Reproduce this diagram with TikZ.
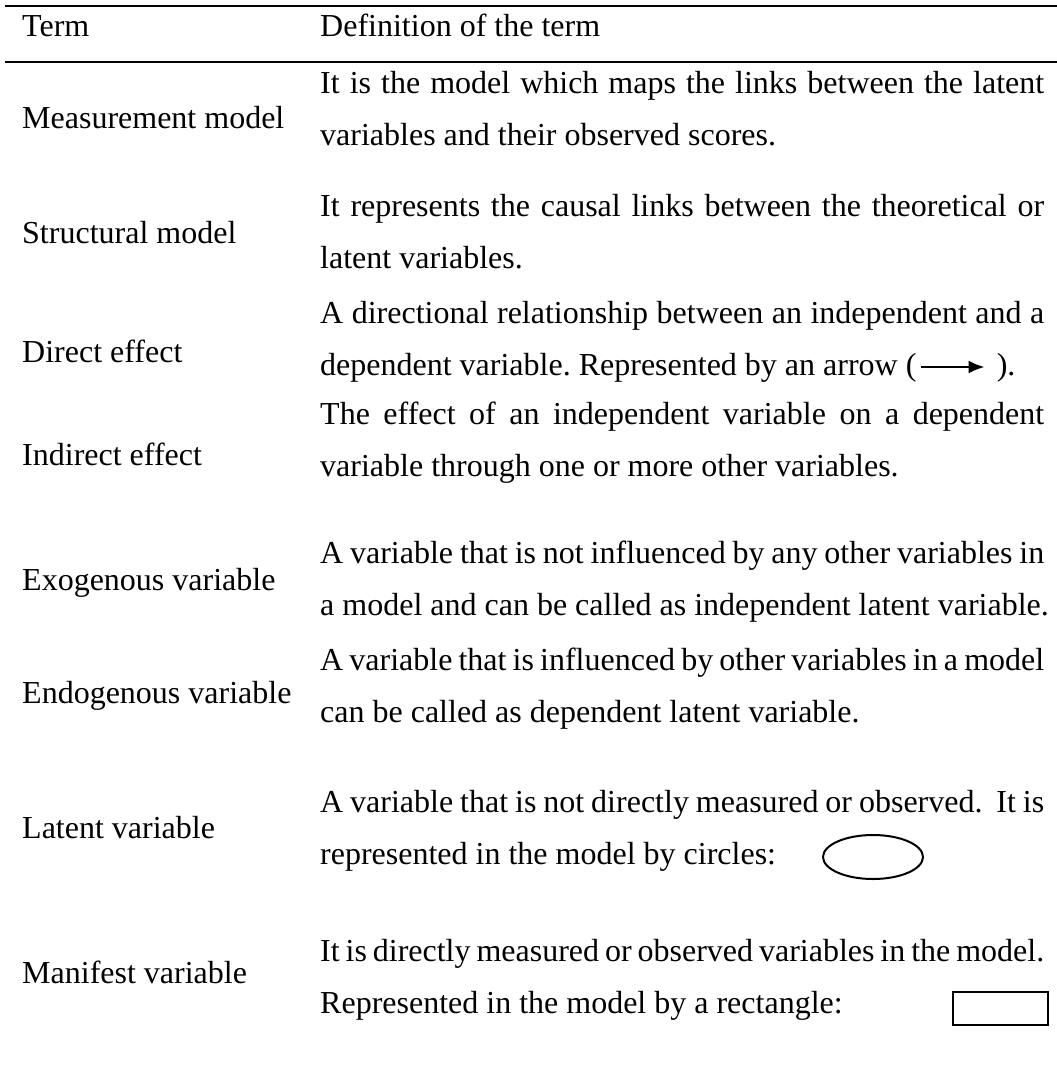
\documentclass[tikz,border=0pt]{standalone}
\usepackage{fontspec}
\setmainfont{Liberation Serif}
\usetikzlibrary{calc,shapes.geometric,arrows.meta}
% a justified line of the definition column
\newcommand{\jline}[1]{\makebox[724pt][s]{#1}}
\begin{document}
\frenchspacing
\begin{tikzpicture}[x=1pt,y=-1pt,
  cell/.style={anchor=base west,inner sep=0pt,font=\fontsize{32}{38}\selectfont},
  rule/.style={line width=2.8pt},
  glyph/.style={draw,line width=2pt,inner sep=0pt}]
\useasboundingbox (0,0) rectangle (1057,1079);

% rules around the header
\draw[rule] (5,6) -- (1057,6);
\draw[rule] (5,62) -- (1057,62);

% header
\node[cell] (hterm) at (22,36) {Term};
\node[cell] (hdef)  at (320,36) {Definition of the term};

% terms
\node[cell] (t1) at (22,128) {Measurement model};
\node[cell] (t2) at (22,243) {Structural model};
\node[cell] (t3) at (22,362) {Direct effect};
\node[cell] (t4) at (22,465) {Indirect effect};
\node[cell] (t5) at (22,590) {Exogenous variable};
\node[cell] (t6) at (22,703) {Endogenous variable};
\node[cell] (t7) at (22,838) {Latent variable};
\node[cell] (t8) at (22,983) {Manifest variable};

% definitions
\node[cell] (d1a) at (320,93)  {\jline{It is the model which maps the links between the latent}};
\node[cell] (d1b) at (320,145) {variables and their observed scores.};
\node[cell] (d2a) at (320,216) {\jline{It represents the causal links between the theoretical or}};
\node[cell] (d2b) at (320,268) {latent variables.};
\node[cell] (d3a) at (320,323) {\jline{A directional relationship between an independent and a}};
\node[cell] (d3b) at (320,375) {dependent variable. Represented by an arrow (};
\coordinate (a1) at ($(d3b.base east)+(4,-8)$);
\coordinate (a2) at ($(d3b.base east)+(68,-8)$);
\node[cell] (d3c) at ($(d3b.base east)+(80,0)$) {).};
\draw[line width=2.4pt,-{Latex[length=16pt,width=13pt]}] (a1) -- (a2);
\node[cell] (d4a) at (320,424) {\jline{The effect of an independent variable on a dependent}};
\node[cell] (d4b) at (320,476) {variable through one or more other variables.};
\node[cell] (d5a) at (320,563) {\jline{A variable that is not influenced by any other variables in}};
\node[cell] (d5b) at (320,615) {a model and can be called as independent latent variable.};
\node[cell] (d6a) at (320,670) {\jline{A variable that is influenced by other variables in a model}};
\node[cell] (d6b) at (320,722) {can be called as dependent latent variable.};
\node[cell] (d7a) at (320,812) {\jline{A variable that is not directly measured or observed.\ \ It is}};
\node[cell] (d7b) at (320,864) {represented in the model by circles:};
\node[glyph,ellipse,minimum width=100pt,minimum height=44pt] (oval) at (873,857) {};
\node[cell] (d8a) at (320,961) {\jline{It is directly measured or observed variables in the model.}};
\node[cell] (d8b) at (320,1013) {Represented in the model by a rectangle:};
\node[glyph,rectangle,minimum width=95pt,minimum height=33pt] (box) at (1000.5,1008.5) {};
\end{tikzpicture}
\end{document}
